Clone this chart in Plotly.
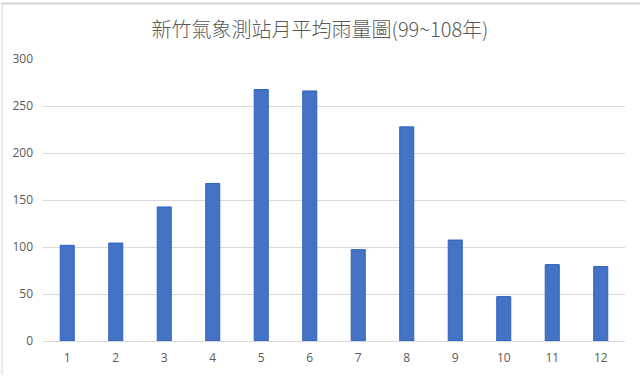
import plotly.graph_objects as go

months = ["1", "2", "3", "4", "5", "6", "7", "8", "9", "10", "11", "12"]
rainfall = [101.8, 104.2, 142.6, 167.6, 267.5, 266.0, 97.2, 227.8, 107.4, 47.2, 81.3, 79.2]
y_ticks = [0, 50, 100, 150, 200, 250, 300]
title_text = "新竹氣象測站月平均雨量圖(99~108年)"

fig = go.Figure()
fig.add_trace(go.Bar(
    x=months, y=rainfall,
    marker=dict(color="#4472C4", line=dict(color="#2f62c2", width=1)),
    width=0.29,
))

fig.update_layout(
    width=640, height=378,
    margin=dict(l=42, r=15, t=59, b=34),
    paper_bgcolor="white", plot_bgcolor="white",
    showlegend=False,
    title=dict(text=title_text, x=0.5, xanchor="center", y=1 - 30/378, yanchor="middle",
               yref="container",
               font=dict(family="Noto Sans CJK TC, Noto Sans, sans-serif", size=20, color="#595959",
                         weight=300)),
    font=dict(family="Open Sans, Liberation Sans, sans-serif", size=12, color="#595959"),
)
fig.update_xaxes(type="category", showgrid=False, showline=True, linecolor="#d9d9d9", linewidth=1,
                 ticks="", ticklabelstandoff=6, tickfont=dict(size=12, color="#595959"))
fig.update_yaxes(range=[0, 300], tickvals=y_ticks, showgrid=True, gridcolor="#d9d9d9", gridwidth=1,
                 zeroline=False, showline=False, ticks="", ticklabelstandoff=9,
                 tickfont=dict(size=12, color="#595959"))

# frame edges (spreadsheet chart border)
ph = 378 - 59 - 34
fig.add_shape(type="line", xref="paper", yref="paper", x0=-42/583, x1=1 + 15/583,
              y0=1 + 56/ph, y1=1 + 56/ph, line=dict(color="#d4d4d4", width=2))
fig.add_shape(type="line", xref="paper", yref="paper", x0=-41/583, x1=-41/583,
              y0=-34/ph, y1=1 + 56/ph, line=dict(color="#d4d4d4", width=1))

fig.write_html("out.html", config={"displayModeBar": False},
               post_script="document.body.style.margin='0';document.body.style.overflow='hidden';")
